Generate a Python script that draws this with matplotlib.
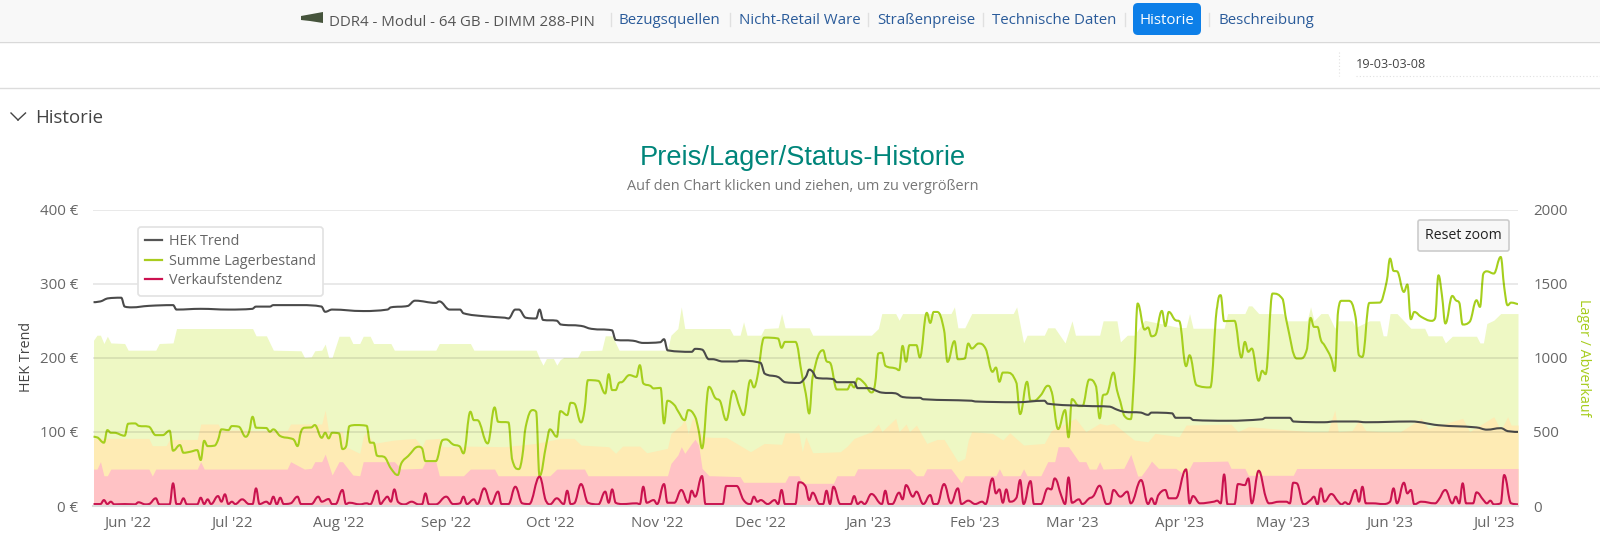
import matplotlib
matplotlib.use("Agg")
import matplotlib.dates as mdates
import matplotlib.pyplot as plt
import pandas as pd
from matplotlib.lines import Line2D
from matplotlib.patches import FancyBboxPatch, PathPatch, Polygon, Rectangle
from matplotlib.path import Path
from matplotlib.transforms import Affine2D

plt.rcParams["font.family"] = ["Open Sans", "DejaVu Sans"]

W, H = 1600, 557
START = pd.Timestamp("2022-06-01")

# days after 1 Jun 2022, values on the right axis unless noted
stock_days = [-10, -9, -7, -6, -5, -4, -1, 0, 2, 3, 6, 8, 10, 12, 13, 15, 16, 18, 20, 21, 22, 23, 25, 26, 27, 29, 30, 32, 34, 35, 36, 37, 40, 41, 42, 44, 47, 48, 49,
              50, 51, 53, 54, 56, 57, 58, 59, 61, 62, 63, 64, 66, 69, 70, 71, 72, 74, 76, 78, 79, 81, 84, 85, 86, 89, 91, 92, 94, 96, 97, 99, 100, 101, 104, 106, 107,
              110, 111, 113, 114, 115, 117, 118, 119, 121, 122, 124, 125, 127, 128, 129, 131, 132, 133, 136, 138, 139, 140, 141, 142, 143, 145, 147, 148, 149, 151, 152, 154, 155, 156, 158, 159, 161, 162, 164, 165, 166,
              168, 170, 171, 173, 175, 177, 178, 180, 181, 182, 184, 188, 189, 190, 193, 195, 196, 197, 198, 201, 202, 203, 205, 208, 209, 210, 211, 213, 215, 216, 217, 218, 219, 222, 223, 224, 225,
              226, 228, 229, 231, 232, 233, 234, 236, 237, 239, 240, 242, 243, 244, 246, 248, 250, 251, 252, 253, 254, 257, 258, 260, 261, 262, 264, 266, 267, 269, 271, 272, 273, 275, 276, 278, 280, 281, 282, 283, 285, 286,
              287, 288, 290, 291, 292, 294, 295, 296, 297, 299, 300, 301, 303, 304, 306, 307, 309, 313, 315, 316, 317, 320, 322, 323, 324, 325, 327, 328, 329, 331, 334, 335, 338, 339, 341, 342, 343, 344,
              345, 346, 348, 349, 350, 351, 353, 355, 356, 357, 359, 362, 364, 365, 366, 367, 369, 370, 371, 372, 374, 377, 378, 379, 380, 381, 383, 384, 385, 386, 388, 390, 391, 392, 393, 395, 397, 398, 399, 400, 402]
stock_values = [467, 463, 427, 512, 494, 494, 474, 555, 557, 541, 535, 478, 478, 508, 373, 411, 359, 366, 377, 310, 440, 404, 407, 445, 517, 512, 539, 535, 467, 501, 602, 528, 526, 501, 517, 472, 456, 445, 404,
                501, 528, 530, 546, 460, 494, 456, 494, 490, 384, 400, 539, 546, 541, 427, 427, 339, 332, 254, 209, 287, 337, 400, 389, 303, 303, 445, 449, 415, 400, 355, 636, 579, 579, 422, 665, 568,
                564, 321, 249, 332, 535, 647, 636, 202, 422, 517, 467, 640, 613, 696, 692, 564, 647, 849, 844, 759, 889, 782, 782, 831, 838, 883, 871, 950, 827, 811, 793, 797, 557, 710, 681, 642, 579, 647, 602, 512, 389,
                804, 725, 714, 579, 777, 658, 613, 849, 800, 871, 1136, 1130, 1067, 1107, 1107, 871, 759, 624, 871, 1051, 977, 966, 786, 786, 822, 800, 860, 827, 766, 815, 1029, 1033, 946, 928, 916, 1080, 973,
                1085, 1085, 1002, 1303, 1235, 1309, 1309, 1186, 972, 1112, 990, 995, 1096, 1062, 1096, 1062, 905, 934, 838, 900, 900, 826, 620, 838, 710, 710, 748, 811, 777, 519, 647, 463, 721, 674, 674, 853, 804, 591, 748, 755, 900, 782,
                703, 613, 586, 894, 1366, 1190, 1204, 1145, 1152, 1316, 1213, 1309, 1253, 1247, 943, 1017, 815, 800, 1343, 1422, 1247, 1249, 1002, 1107, 1040, 1062, 845, 912, 889, 1433, 1393, 1253, 995, 995, 1062, 1269, 1208, 1208,
                1119, 1085, 995, 910, 1321, 1384, 1384, 1276, 1017, 1006, 1370, 1372, 1512, 1669, 1586, 1583, 1444, 1494, 1260, 1309, 1276, 1249, 1265, 1556, 1422, 1231, 1417, 1388, 1372, 1224, 1242, 1388, 1343, 1568, 1583, 1568, 1680, 1478, 1354, 1372, 1361]

# HEK trend in euro, left axis
hek_days = [-10, -8, -6, -2, -1, 1, 6, 13, 14, 21, 29, 36, 37, 41, 42, 50, 56, 57, 59, 68, 75, 76, 81, 83, 89, 90, 93, 96, 97, 103, 109,
            110, 112, 113, 115, 118, 119, 120, 124, 125, 131, 134, 140, 141, 146, 149, 154, 155, 156, 163, 164, 166, 168,
            169, 172, 176, 177, 183, 184, 188, 190, 194, 196, 197, 198, 199, 204, 205, 210, 211, 214, 218, 222, 224, 228,
            229, 230, 244, 245, 257, 265, 266, 277, 284, 286, 288, 293, 295, 296, 302, 303, 307, 308, 318, 328, 329, 336, 337, 346, 349, 355, 358, 371, 379, 390, 393, 397, 399, 402]
hek_values = [275, 276, 280, 281, 269, 268, 270, 271, 265, 266, 265, 266, 269, 269, 271, 271, 269, 262, 265, 263, 265, 268, 270, 277, 274, 276, 265, 265, 260, 256, 254,
              253, 265, 265, 254, 253, 265, 251, 250, 245, 243, 239, 237, 224, 223, 220, 221, 225, 210, 208, 212, 211, 198,
              198, 195, 195, 196, 193, 179, 174, 167, 166, 174, 184, 181, 173, 171, 167, 167, 159, 159, 153, 152, 147, 146,
              146, 144, 142, 141, 140, 142, 138, 135, 134, 130, 127, 126, 123, 126, 125, 119, 119, 116, 115, 117, 119, 119, 114, 113, 114, 114, 113, 114, 109, 106, 103, 105, 101, 100]

sales_days = [-10, -8, -7, -6, -5, -4, -1, 2, 3, 5, 6, 8, 9, 12, 13, 14, 15, 16, 17, 20, 21, 22, 23, 24, 26, 27, 28, 29, 30, 31, 33, 35, 36, 37, 38, 40, 41, 42, 43, 44, 45, 47, 49,
              50, 53, 55, 56, 58, 59, 60, 62, 63, 64, 67, 69, 70, 72, 73, 74, 75, 76, 77, 78, 80, 82, 84, 85, 86, 87, 89, 92, 94, 96, 97, 98, 100, 101, 103, 105, 107, 108,
              110, 112, 114, 116, 119, 121, 122, 124, 126, 127, 128, 129, 131, 133, 136, 138, 139, 140, 141, 143, 147, 148, 149, 150, 152, 153, 155, 156, 158, 160, 162, 163, 164, 166, 167,
              170, 172, 173, 176, 178, 180, 181, 182, 183, 185, 187, 188, 189, 190, 193, 194, 196, 197, 198, 200, 201, 202, 203, 204, 206, 209, 210, 211, 212, 213, 215, 218, 219, 220, 221, 223, 224, 225, 227, 228,
              230, 232, 233, 234, 236, 238, 240, 241, 243, 245, 247, 248, 250, 251, 252, 253, 254, 255, 257, 258, 259, 261, 262, 264, 266, 267, 268, 270, 271, 272, 273, 275, 276, 278, 279, 281, 283, 284, 285,
              287, 289, 290, 293, 295, 296, 297, 298, 300, 301, 303, 306, 307, 308, 310, 314, 315, 316, 317, 318, 320, 321, 323, 324, 325, 327, 329, 330, 333, 335, 336, 337, 338, 340, 342, 343, 344, 345,
              346, 348, 350, 351, 352, 353, 355, 356, 357, 358, 360, 363, 365, 366, 367, 369, 370, 371, 372, 374, 378, 379, 381, 383, 384, 385, 386, 387, 389, 390, 392, 393, 394, 395, 397, 398, 400, 402]
sales_values = [13, 13, 40, 13, 29, 11, 13, 11, 25, 11, 13, 52, 11, 11, 153, 13, 13, 52, 11, 11, 56, 13, 45, 13, 67, 29, 79, 13, 29, 13, 45, 13, 13, 119, 13, 29, 13, 63, 11, 56, 13, 18, 63,
                13, 13, 63, 29, 47, 13, 13, 108, 13, 22, 11, 18, 11, 103, 13, 40, 63, 29, 112, 29, 11, 29, 11, 11, 85, 11, 11, 63, 13, 18, 63, 13, 45, 13, 119, 13, 97, 13,
                13, 130, 18, 13, 198, 29, 11, 52, 13, 103, 13, 18, 148, 22, 11, 97, 22, 112, 22, 13, 18, 13, 130, 22, 40, 13, 148, 22, 22, 108, 22, 103, 63, 202, 13,
                13, 13, 135, 135, 40, 13, 63, 29, 40, 13, 40, 13, 108, 13, 13, 160, 130, 40, 90, 13, 13, 103, 13, 130, 13, 13, 67, 13, 29, 13, 81, 13, 103, 13, 13, 90, 45, 141, 63, 97,
                13, 74, 13, 13, 148, 18, 119, 13, 36, 13, 29, 13, 186, 85, 112, 22, 112, 29, 58, 175, 13, 168, 13, 13, 119, 112, 186, 63, 13, 193, 22, 45, 13, 52, 63, 137, 13, 18, 108,
                63, 97, 18, 175, 13, 52, 11, 74, 108, 52, 52, 247, 18, 67, 18, 29, 36, 18, 213, 11, 11, 148, 141, 186, 18, 238, 63, 18, 29, 29, 18, 157, 153, 11, 40, 63, 11, 119,
                29, 81, 29, 11, 25, 11, 108, 29, 130, 18, 18, 13, 29, 119, 18, 157, 85, 108, 11, 29, 18, 40, 108, 18, 63, 18, 153, 18, 18, 92, 40, 18, 36, 11, 18, 209, 18, 11]

# upper, middle and lower background bands
band_days = [-10, -9, -8, -7, -6, -5, -1, 0, 8, 9, 13, 14, 36, 37, 40, 42, 50, 51, 53, 54, 56, 57, 58, 59, 61, 64, 65, 67, 68, 70, 71, 76, 77, 89, 90, 99, 100, 118, 119, 120, 121, 123, 124, 125, 126, 130, 131, 137, 138, 140, 142,
             156, 157, 159, 160, 161, 174, 175, 177, 178, 179, 183, 184, 188, 189, 190, 197, 198, 215, 217, 218, 222, 223, 224, 238, 239, 240, 242, 244, 256, 257, 259, 260, 265, 266, 268, 271, 273, 274, 281, 282, 286,
             287, 289, 291, 294, 304, 306, 307, 308, 317, 318, 323, 324, 325, 327, 334, 335, 341, 342, 343, 345, 347, 349, 350, 354, 355, 359, 362, 363, 364, 365, 367, 371, 375, 376, 380, 381, 383, 390, 391, 392, 393, 395, 397, 402]
band_values = [1118, 1152, 1152, 1096, 1145, 1100, 1096, 1051, 1051, 1096, 1100, 1197, 1197, 1148, 1148, 1051, 1047, 1002, 1006, 1047, 1051, 1092, 1002, 1002, 1145, 1145, 1096, 1096, 1145, 1145, 1096, 1096, 1051, 1051, 1096, 1096, 1051, 1051, 995, 950, 995, 995, 950, 988, 1002, 1002, 1047, 1051, 1148, 1148, 1051,
               1051, 1152, 1197, 1343, 1197, 1197, 1152, 1152, 1242, 1152, 1152, 1197, 1202, 1298, 1202, 1202, 1152, 1152, 1197, 1298, 1298, 1253, 1298, 1298, 1343, 1202, 1202, 1298, 1298, 1343, 1100, 1152, 1152, 1202, 1202, 1100, 1249, 1152, 1152, 1249, 1249,
               1107, 1152, 1152, 1253, 1204, 1204, 1298, 1199, 1199, 1298, 1298, 1350, 1350, 1298, 1298, 1249, 1249, 1343, 1249, 1298, 1298, 1199, 1249, 1249, 1204, 1249, 1249, 1148, 1148, 1298, 1298, 1199, 1199, 1148, 1148, 1100, 1145, 1145, 1100, 1100, 1231, 1253, 1298, 1298]

mid_days = [-10, 6, 7, 11, 12, 20, 21, 26, 27, 34, 36, 46, 47, 53, 56, 57, 58, 62, 63, 67, 68, 69, 71, 77, 83, 85, 86, 90, 91, 97, 98, 109, 118, 125, 129, 131, 139, 141, 143, 148, 150, 156, 157, 160, 161, 162, 163, 164, 166,
            169, 173, 176, 180, 184, 189, 190, 194, 195, 196, 198, 206, 208, 210, 215, 217, 218, 222, 223, 225, 226, 228, 231, 234, 236, 240, 242, 243, 244, 248, 250, 253, 255, 259, 265, 267, 274, 277, 281, 283,
            285, 291, 295, 297, 304, 306, 319, 321, 324, 342, 345, 347, 349, 350, 354, 356, 358, 362, 368, 374, 376, 386, 388, 395, 397, 399, 400, 402]
mid_values = [456, 456, 407, 407, 449, 449, 553, 553, 512, 512, 508, 508, 553, 553, 553, 647, 501, 501, 400, 355, 467, 501, 422, 445, 456, 400, 449, 456, 400, 400, 404, 400, 422, 456, 456, 411, 400, 355, 404, 404, 359, 389, 490, 546, 591, 485, 579, 602, 467,
              463, 463, 422, 366, 422, 416, 494, 494, 366, 467, 359, 366, 404, 456, 501, 553, 501, 591, 501, 553, 501, 546, 422, 449, 449, 299, 321, 445, 501, 494, 490, 445, 494, 411, 422, 508, 591, 501, 557, 546,
              557, 445, 433, 490, 467, 546, 552, 501, 535, 501, 501, 501, 647, 501, 508, 579, 508, 501, 501, 591, 523, 591, 501, 602, 512, 602, 546, 546]

low_days = [-10, -9, -8, -7, -6, -5, 6, 7, 8, 20, 21, 22, 46, 47, 51, 53, 54, 56, 57, 59, 61, 62, 65, 67, 68, 77, 79, 85, 86, 89, 90, 97, 99, 106, 107, 122, 124, 132, 133, 156, 157, 159, 160, 161, 163, 164, 165, 166, 168,
            169, 177, 178, 190, 191, 194, 195, 204, 205, 210, 211, 226, 228, 230, 231, 238, 241, 242, 251, 252, 253, 258, 259, 260, 264, 266, 268, 269, 272, 275, 277, 278, 280, 281, 282, 285,
            288, 290, 292, 293, 295, 296, 298, 303, 306, 307, 308, 310, 318, 319, 323, 324, 337, 338, 402]
low_values = [249, 249, 299, 204, 204, 249, 249, 202, 249, 249, 299, 249, 249, 299, 249, 254, 299, 299, 350, 209, 299, 299, 209, 204, 299, 299, 249, 254, 299, 299, 204, 204, 249, 249, 204, 204, 249, 249, 204, 204, 287, 344, 400, 355, 422, 451, 411, 254, 204,
              204, 198, 160, 160, 204, 204, 153, 153, 204, 204, 251, 251, 204, 204, 251, 251, 157, 204, 204, 251, 204, 204, 251, 204, 204, 299, 299, 400, 400, 299, 299, 249, 249, 299, 249, 252,
              254, 348, 202, 202, 265, 303, 254, 254, 202, 254, 299, 299, 303, 254, 254, 207, 207, 253, 253]

yticks_left = [0, 100, 200, 300, 400]
yticks_right = [0, 500, 1000, 1500, 2000]

nav_links = [("Bezugsquellen", 619), ("Nicht-Retail Ware", 739), ("Straßenpreise", 877), ("Technische Daten", 992), ("Beschreibung", 1218)]
nav_seps = [611, 730, 868, 983, 1125, 1209]


def to_dates(days):
    return START + pd.to_timedelta(days, unit="D")


def page_text(fig, x, y, s, **kw):
    kw.setdefault("va", "center")
    fig.text(x / W, 1 - y / H, s, **kw)


def page_rect(fig, x0, y0, x1, y1, **kw):
    fig.add_artist(Rectangle((x0 / W, 1 - y1 / H), (x1 - x0) / W, (y1 - y0) / H, transform=fig.transFigure, **kw))


def page_line(fig, x0, y0, x1, y1, **kw):
    fig.add_artist(Line2D([x0 / W, x1 / W], [1 - y0 / H, 1 - y1 / H], transform=fig.transFigure, **kw))


def page_box(fig, x0, y0, x1, y1, radius, **kw):
    # round boxes are set out in pixels so the corners stay circular
    box = FancyBboxPatch((x0, H - y1), x1 - x0, y1 - y0, boxstyle=f"round,pad=0,rounding_size={radius}",
                         transform=Affine2D().scale(fig.dpi / 100), **kw)
    fig.add_artist(box)


def spline_line(ax, days, values, **kw):
    # same bezier rule the web chart uses between its points
    xs = mdates.date2num(to_dates(days))
    ys = [float(v) for v in values]
    verts = [(xs[0], ys[0])]
    codes = [Path.MOVETO]
    n = len(xs)
    for i in range(1, n):
        left = control_points(xs, ys, i - 1, n)[1]
        right = control_points(xs, ys, i, n)[0]
        verts += [left, right, (xs[i], ys[i])]
        codes += [Path.CURVE4, Path.CURVE4, Path.CURVE4]
    ax.add_patch(PathPatch(Path(verts, codes), fill=False, joinstyle="round", **kw))


def control_points(xs, ys, i, n):
    if i == 0 or i == n - 1:
        return (xs[i], ys[i]), (xs[i], ys[i])
    smoothing, denom = 1.5, 2.5
    lx = (smoothing * xs[i] + xs[i - 1]) / denom
    ly = (smoothing * ys[i] + ys[i - 1]) / denom
    rx = (smoothing * xs[i] + xs[i + 1]) / denom
    ry = (smoothing * ys[i] + ys[i + 1]) / denom
    correction = 0.0
    if rx != lx:
        correction = (ry - ly) * (rx - xs[i]) / (rx - lx) + ys[i] - ry
    ly += correction
    ry += correction
    if ly > ys[i] and ly > ys[i - 1]:
        ly = max(ys[i], ys[i - 1])
        ry = 2 * ys[i] - ly
    elif ly < ys[i] and ly < ys[i - 1]:
        ly = min(ys[i], ys[i - 1])
        ry = 2 * ys[i] - ly
    if ry > ys[i] and ry > ys[i + 1]:
        ry = max(ys[i], ys[i + 1])
        ly = 2 * ys[i] - ry
    elif ry < ys[i] and ry < ys[i + 1]:
        ry = min(ys[i], ys[i + 1])
        ly = 2 * ys[i] - ry
    return (lx, ly), (rx, ry)


def draw_page(fig):
    page_rect(fig, 0, 0, W, 41, facecolor="#f8f8f8", edgecolor="none")
    page_line(fig, 0, 41.5, W, 41.5, color="#d9d9d9", lw=1)
    page_line(fig, 0, 87.5, W, 87.5, color="#dcdcdc", lw=1)

    # small picture of the memory module
    fig.add_artist(Polygon([(301 / W, 1 - 16 / H), (323 / W, 1 - 12 / H), (323 / W, 1 - 23 / H), (310 / W, 1 - 21 / H), (301 / W, 1 - 20 / H)],
                           transform=fig.transFigure, facecolor="#46543c", edgecolor="none"))
    page_text(fig, 329, 22, "DDR4 - Modul - 64 GB - DIMM 288-PIN", color="#555555", fontsize=10.8)

    for label, x in nav_links:
        page_text(fig, x, 20, label, color="#2a5b9a", fontsize=10.8)
    for x in nav_seps:
        page_line(fig, x, 13, x, 26, color="#e0e0e0", lw=1)
    page_box(fig, 1133, 3, 1201, 35, 5, facecolor="#0d7fe8", edgecolor="none")
    page_text(fig, 1167, 20, "Historie", color="white", fontsize=10.8, ha="center")

    page_text(fig, 1356, 64, "19-03-03-08", color="#444444", fontsize=9.1)
    page_line(fig, 1356, 75.5, W, 75.5, color="#e0e0e0", lw=0.8, ls=(0, (1, 2)))
    page_line(fig, 1338.5, 52, 1338.5, 76, color="#e0e0e0", lw=0.8, ls=(0, (1, 2)))

    page_line(fig, 11, 113, 18, 120, color="#444444", lw=1.0)
    page_line(fig, 18, 120, 25.5, 113, color="#444444", lw=1.0)
    page_text(fig, 35.5, 118, "Historie", color="#444444", fontsize=13.4)

    page_text(fig, 803, 158, "Preis/Lager/Status-Historie", color="#00857a", fontsize=19.6, ha="center", family="Liberation Sans")
    page_text(fig, 803, 186.5, "Auf den Chart klicken und ziehen, um zu vergrößern", color="#777777", fontsize=10.45, ha="center")


def main():
    fig = plt.figure(figsize=(W / 100, H / 100), dpi=100)
    draw_page(fig)

    ax = fig.add_axes([92.5 / W, 1 - 506 / H, (1518 - 92.5) / W, (506 - 209.5) / H])
    ax2 = ax.twinx()

    ax2.fill_between(to_dates(band_days), band_values, color="#eef8c4", lw=0)
    ax2.fill_between(to_dates(mid_days), mid_values, color="#feebb4", lw=0)
    ax2.fill_between(to_dates(low_days), low_values, color="#ffc2c5", lw=0)
    spline_line(ax2, stock_days, stock_values, edgecolor="#a5cf1d", lw=1.5)
    spline_line(ax2, sales_days, sales_values, edgecolor="#c9134f", lw=1.5)

    # the euro axes sit on top so that grid and trend stay visible over the bands
    ax.set_zorder(ax2.get_zorder() + 1)
    ax.patch.set_visible(False)
    ax.grid(axis="y", color="#000000", alpha=0.1, lw=1.2)
    spline_line(ax, hek_days, hek_values, edgecolor="#4a4a4a", lw=1.5)

    ax.set_xlim(to_dates([-10.3])[0], to_dates([402])[0])
    ax.set_ylim(0, 400)
    ax2.set_ylim(0, 2000)
    ax.set_yticks(yticks_left)
    ax.set_yticklabels([f"{v} €" for v in yticks_left])
    ax2.set_yticks(yticks_right)
    ax.xaxis.set_major_locator(mdates.MonthLocator())
    ax.xaxis.set_major_formatter(mdates.DateFormatter("%b '%y"))

    for a in (ax, ax2):
        for spine in a.spines.values():
            spine.set_visible(False)
        a.tick_params(length=0, labelsize=10.8, labelcolor="#666666")
    ax.tick_params(axis="x", pad=7.5)
    ax.tick_params(axis="y", pad=10.5)
    ax2.tick_params(axis="y", pad=11)
    ax.spines["bottom"].set_visible(True)
    ax.spines["bottom"].set_color("#dcdcdc")
    ax.spines["bottom"].set_linewidth(1.5)

    page_text(fig, 26.5, 357, "HEK Trend", color="#444444", fontsize=10.3, rotation=90, ha="center")
    page_text(fig, 1584, 358, "Lager / Abverkauf", color="#a6cc1c", fontsize=10.3, rotation=270, ha="center")

    handles = [Line2D([], [], color="#555555", lw=1.6), Line2D([], [], color="#a9cc1f", lw=1.6), Line2D([], [], color="#cc1150", lw=1.6)]
    legend = ax.legend(handles, ["HEK Trend", "Summe Lagerbestand", "Verkaufstendenz"],
                       loc="upper left", bbox_to_anchor=((137.8 - 92.5) / (1518 - 92.5), 1 - (226.7 - 209.5) / (506 - 209.5)),
                       borderaxespad=0, fontsize=10.4, labelcolor="#666666", frameon=True, fancybox=True, framealpha=1,
                       edgecolor="#e2e2e2", handlelength=1.2, handletextpad=0.45, labelspacing=0.33, borderpad=0.5)
    legend.get_frame().set_linewidth(1.2)
    legend.set_zorder(10)

    # reset button floats over the plot, so it goes on the figure after the axes
    page_box(fig, 1418, 220, 1509, 251, 2, facecolor="#f7f7f7", edgecolor="#cccccc", lw=1.2, zorder=20)
    page_text(fig, 1463.5, 235.5, "Reset zoom", color="#222222", fontsize=10.2, ha="center", zorder=21)

    fig.savefig("out.png", dpi=100)
    plt.close(fig)


main()
